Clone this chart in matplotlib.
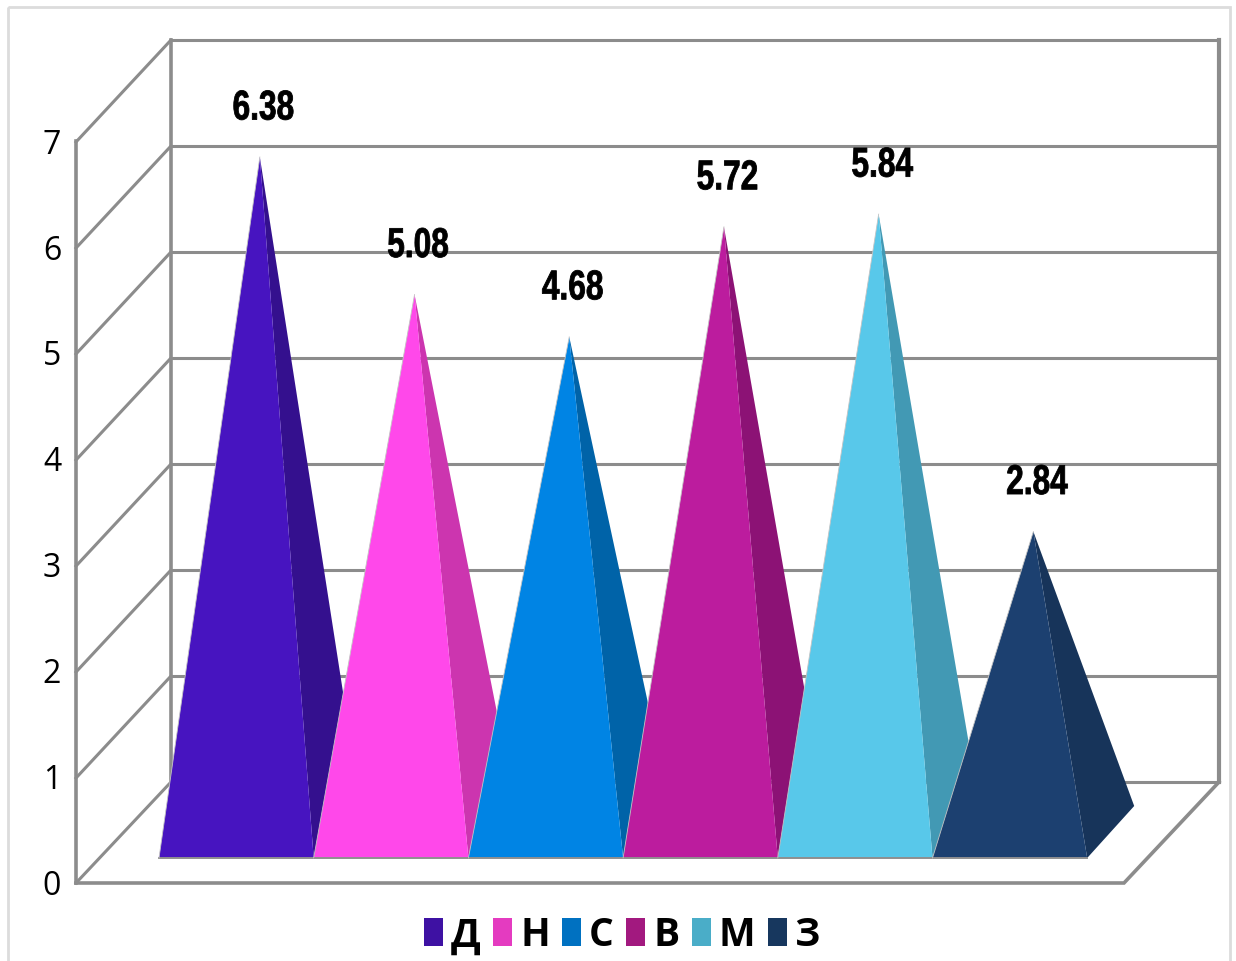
import matplotlib
matplotlib.use("Agg")
import matplotlib.pyplot as plt
from matplotlib.patches import Polygon, Patch, Rectangle
from matplotlib.patheffects import AbstractPathEffect
from matplotlib.transforms import Affine2D

# Chart data
categories = ["Д", "Н", "С", "В", "М", "З"]
values = [6.38, 5.08, 4.68, 5.72, 5.84, 2.84]
y_ticks = [0, 1, 2, 3, 4, 5, 6, 7]

# Colours: lit front face, shaded side face, legend swatch
front_colors = ["#4714C0", "#FF48EA", "#0084E4", "#BC1C9E", "#58C8EA", "#1C4070"]
side_colors = ["#34108E", "#CC35AF", "#0063A8", "#8C1275", "#4299B4", "#17345A"]
legend_colors = ["#3E11A3", "#E43BC0", "#0071C1", "#A2197F", "#4AADC8", "#17375E"]

# Oblique projection of the 3-D box, in canvas pixels
UNIT = 106.0
WALL_LEFT, WALL_RIGHT, WALL_FLOOR = 171, 1219, 783
FRONT_LEFT, FRONT_RIGHT, FRONT_FLOOR = 76, 1124, 884
BAR_X0, BAR_STEP = 159.0, 154.7
BAR_FRONT_Y = 859
BAR_DX, BAR_DY = 47, -52
PYRAMID_UNIT = 105.8
GRID = "#8c8c8c"


class SqueezeText(AbstractPathEffect):
    """Narrows a text's glyphs about the centre of the string and thickens their strokes."""

    def __init__(self, factor, stroke):
        super().__init__()
        self.factor = factor
        self.stroke = stroke

    def draw_path(self, renderer, gc, tpath, affine, rgbFace=None):
        extents = tpath.get_extents(affine)
        cx = (extents.x0 + extents.x1) / 2
        squeezed = affine + Affine2D().translate(-cx, 0).scale(self.factor, 1).translate(cx, 0)
        stroked = renderer.new_gc()
        stroked.copy_properties(gc)
        stroked.set_linewidth(self.stroke)
        stroked.set_foreground(rgbFace)
        renderer.draw_path(stroked, tpath, squeezed, rgbFace)
        stroked.restore()


fig = plt.figure(figsize=(12.36, 9.62), dpi=100, facecolor="white")
ax = fig.add_axes([0, 0, 1, 1])
ax.set_xlim(0, 1236)
ax.set_ylim(962, 0)
ax.axis("off")

# Outer chart frame, open at the bottom edge of the canvas
ax.add_patch(Rectangle((8, 8), 1222, 970, fill=False, ec="#dcdcdc", lw=2, clip_on=True))

# Back wall, side wall and floor
top = y_ticks[-1]
for v in y_ticks:
    back_y = WALL_FLOOR - UNIT * v
    front_y = FRONT_FLOOR - UNIT * v + (1 if v else 0)
    ax.plot([WALL_LEFT, WALL_RIGHT], [back_y, back_y], color=GRID, lw=2.2, solid_capstyle="butt")
    ax.plot([FRONT_LEFT, WALL_LEFT], [front_y, back_y], color=GRID, lw=2.2)
    ax.text(52, FRONT_FLOOR - UNIT * v - 1, str(v), ha="center", va="center_baseline",
            fontsize=23, family="Open Sans", color="black")
top_back = WALL_FLOOR - UNIT * top
top_front = FRONT_FLOOR - UNIT * top
ax.plot([WALL_LEFT, WALL_LEFT], [WALL_FLOOR, top_back], color=GRID, lw=2.6)
ax.plot([WALL_RIGHT, WALL_RIGHT], [WALL_FLOOR, top_back], color=GRID, lw=3.0)
ax.plot([FRONT_LEFT, FRONT_LEFT], [FRONT_FLOOR, top_front], color=GRID, lw=2.6)
ax.plot([FRONT_LEFT, FRONT_RIGHT, WALL_RIGHT], [FRONT_FLOOR, FRONT_FLOOR, WALL_FLOOR],
        color=GRID, lw=2.6, solid_joinstyle="miter")

# Pyramids, drawn left to right so each one overlaps its neighbour's side face
for i, v in enumerate(values):
    left = BAR_X0 + BAR_STEP * i
    right = left + BAR_STEP
    apex_x = left + BAR_STEP / 2 + BAR_DX / 2
    centre_y = BAR_FRONT_Y + BAR_DY / 2
    apex_y = centre_y - PYRAMID_UNIT * v
    z = 3 + i
    ax.add_patch(Polygon([(right, BAR_FRONT_Y), (right + BAR_DX, BAR_FRONT_Y + BAR_DY), (apex_x, apex_y)],
                         closed=True, fc=side_colors[i], ec="none", zorder=z))
    ax.add_patch(Polygon([(left, BAR_FRONT_Y), (right, BAR_FRONT_Y), (apex_x, apex_y)],
                         closed=True, fc=front_colors[i], ec="none", zorder=z))
    ax.plot([left, right], [BAR_FRONT_Y, BAR_FRONT_Y], color="#8f8f8f", lw=1.4, zorder=z + 0.5)
    ax.plot([left, apex_x], [BAR_FRONT_Y, apex_y], color="#c4c4c4", lw=0.6, zorder=z + 0.5)
    ax.text(apex_x + 3.5, apex_y - 53, f"{v:.2f}", ha="center", va="center_baseline",
            fontsize=30, fontweight="bold", family="Liberation Sans", color="black", zorder=20,
            path_effects=[SqueezeText(0.76, 0.6)])

# Legend along the bottom
handles = [Patch(fc=c, ec="none") for c in legend_colors]
leg = ax.legend(handles, categories, ncol=6, loc="center", bbox_to_anchor=(622, 936),
                bbox_transform=ax.transData, frameon=False, handlelength=0.49, handleheight=0.7,
                handletextpad=0.2, columnspacing=0.32, borderpad=0, borderaxespad=0,
                prop={"family": "Open Sans", "weight": "bold", "size": 28})

fig.savefig("out.png", dpi=100)
